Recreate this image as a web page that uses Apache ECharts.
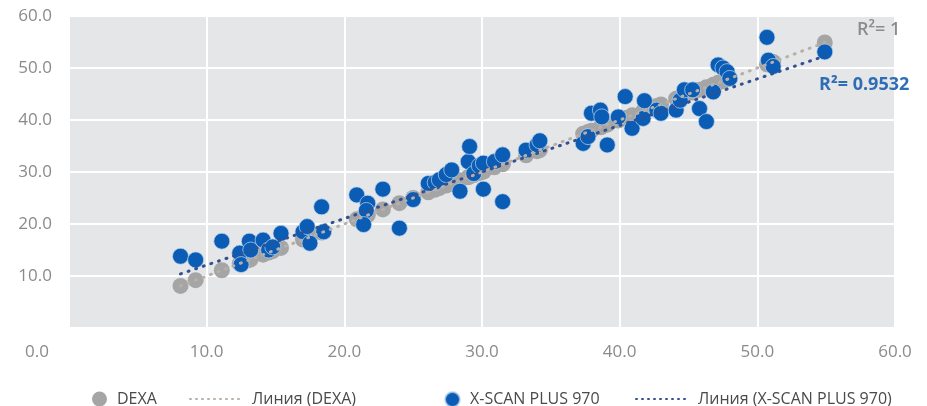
<!DOCTYPE html>
<html>
<head>
<meta charset="utf-8">
<script src="https://cdn.jsdelivr.net/npm/echarts@6/dist/echarts.min.js"></script>
<style>
html,body{margin:0;padding:0;background:#fff;}
#c{width:927px;height:406px;}
</style>
</head>
<body>
<div id="c"></div>
<script>
// DEXA measured values (x) and X-SCAN PLUS 970 values for the same subjects
const dexa = [8.1, 9.2, 11.1, 12.4, 12.5, 13.1, 13.2, 14.1, 14.5, 14.8, 15.4, 17.0, 17.3, 17.5, 18.35, 18.5,
  20.9, 21.7, 21.6, 21.4, 22.8, 24.0, 25.0, 26.1, 26.6, 26.9, 27.4, 27.8, 28.4, 29.0, 29.1, 29.4, 29.8, 30.1, 30.1,
  30.9, 31.5, 31.5, 33.2, 34.0, 34.2, 37.35, 37.7, 37.95, 38.6, 38.7, 39.1, 39.9, 40.4, 40.9, 41.7, 41.8, 42.7,
  43.0, 44.1, 44.4, 44.7, 45.3, 45.8, 46.3, 46.8, 47.15, 47.5, 47.8, 48.0, 50.7, 50.8, 51.15, 54.9];
const xscan = [13.8, 13.1, 16.7, 14.4, 12.2, 16.7, 15.0, 16.9, 15.0, 15.6, 18.2, 18.5, 19.5, 16.3, 23.3, 18.5,
  25.6, 24.0, 22.6, 19.9, 26.7, 19.2, 24.7, 27.8, 28.0, 28.5, 29.5, 30.4, 26.3, 32.0, 34.9, 29.7, 31.2, 31.7, 26.7,
  32.0, 33.3, 24.3, 34.2, 35.2, 36.0, 35.5, 36.8, 41.3, 41.9, 40.6, 35.2, 40.6, 44.5, 38.4, 40.3, 43.7, 41.9,
  41.3, 41.9, 43.8, 45.8, 45.8, 42.2, 39.7, 45.4, 50.6, 50.0, 49.3, 48.0, 55.9, 51.5, 50.3, 53.1];
// trend line end points
const trendX = [8.1, 54.9];
const trendDexa = [8.1, 54.9];
const trendXscan = [10.4, 52.3];
const xTicks = ['0.0', '10.0', '20.0', '30.0', '40.0', '50.0', '60.0'];
const names = ['DEXA', 'Линия (DEXA)', 'X-SCAN PLUS 970', 'Линия (X-SCAN PLUS 970)'];
const r2 = ['R²= 1', 'R²= 0.9532'];

const chart = echarts.init(document.getElementById('c'), null, {renderer: 'canvas'});
const FONT = 'Open Sans';
const legendText = {color: '#4a4a4a', fontSize: 16, fontFamily: FONT, padding: [0, 0, 0, 5]};
function leg(name, left, w, h, isLine) {
  const item = isLine ? {name: name, itemStyle: {opacity: 0}} : {name: name};
  const l = {data: [item], left: left, top: 386, itemWidth: w, itemHeight: h, textStyle: legendText, selectedMode: false};
  if (isLine) l.lineStyle = {width: 2, type: [1, 5], cap: 'round'};
  return l;
}
chart.setOption({
  animation: false,
  grid: {left: 69, right: 32, top: 16, bottom: 78, show: true, backgroundColor: '#e5e6e8', borderWidth: 0, z: 0},
  xAxis: {
    type: 'value', min: 0, max: 60, interval: 10,
    axisLine: {show: false}, axisTick: {show: false},
    splitLine: {show: true, lineStyle: {color: '#ffffff', width: 2}},
    axisLabel: {
      margin: 16, color: '#8a8a8a', fontSize: 17, fontFamily: FONT,
      formatter: function (v) { const t = xTicks[Math.round(v / 10)]; return v === 0 ? '{z|' + t + '}' : t; },
      rich: {z: {padding: [0, 64, 0, 0], color: '#8a8a8a', fontSize: 17, fontFamily: FONT}}
    }
  },
  yAxis: {
    type: 'value', min: 0, max: 60, interval: 10,
    axisLine: {show: false}, axisTick: {show: false},
    splitLine: {show: true, lineStyle: {color: '#ffffff', width: 2}},
    axisLabel: {margin: 17, color: '#8a8a8a', fontSize: 17, fontFamily: FONT, showMinLabel: false,
      formatter: function (v) { return v.toFixed(1); }}
  },
  legend: [
    leg(names[0], 87, 15, 15, false),
    leg(names[1], 184, 52, 10, true),
    leg(names[2], 439, 15, 15, false),
    leg(names[3], 630, 52, 10, true)
  ],
  series: [
    {name: names[0], type: 'scatter', symbolSize: 16, itemStyle: {color: '#a5a5a5', opacity: 1},
      data: dexa.map(function (d) { return [d, d]; }), z: 2},
    {name: names[2], type: 'scatter', symbolSize: 16,
      itemStyle: {color: '#0a5cb4', opacity: 1, borderColor: 'rgba(190,215,240,0.7)', borderWidth: 1},
      data: dexa.map(function (d, i) { return [d, xscan[i]]; }), z: 3},
    {name: names[1], type: 'line', symbol: 'none', z: 4,
      lineStyle: {color: '#b8afa8', width: 3, type: [1, 7], cap: 'round'},
      itemStyle: {color: '#b8afa8'},
      data: trendX.map(function (x, i) { return [x, trendDexa[i]]; })},
    {name: names[3], type: 'line', symbol: 'none', z: 5,
      lineStyle: {color: '#34508f', width: 3, type: [1, 7], cap: 'round'},
      itemStyle: {color: '#34508f'},
      data: trendX.map(function (x, i) { return [x, trendXscan[i]]; })}
  ],
  graphic: [
    {type: 'text', z: 100, x: 857, y: 21, style: {text: r2[0], fill: '#8c8c8c', fontSize: 18, fontWeight: 600, fontFamily: FONT}},
    {type: 'text', z: 100, x: 819, y: 76, style: {text: r2[1], fill: '#2f6db5', fontSize: 18, fontWeight: 700, fontFamily: FONT}}
  ]
});
</script>
</body>
</html>
